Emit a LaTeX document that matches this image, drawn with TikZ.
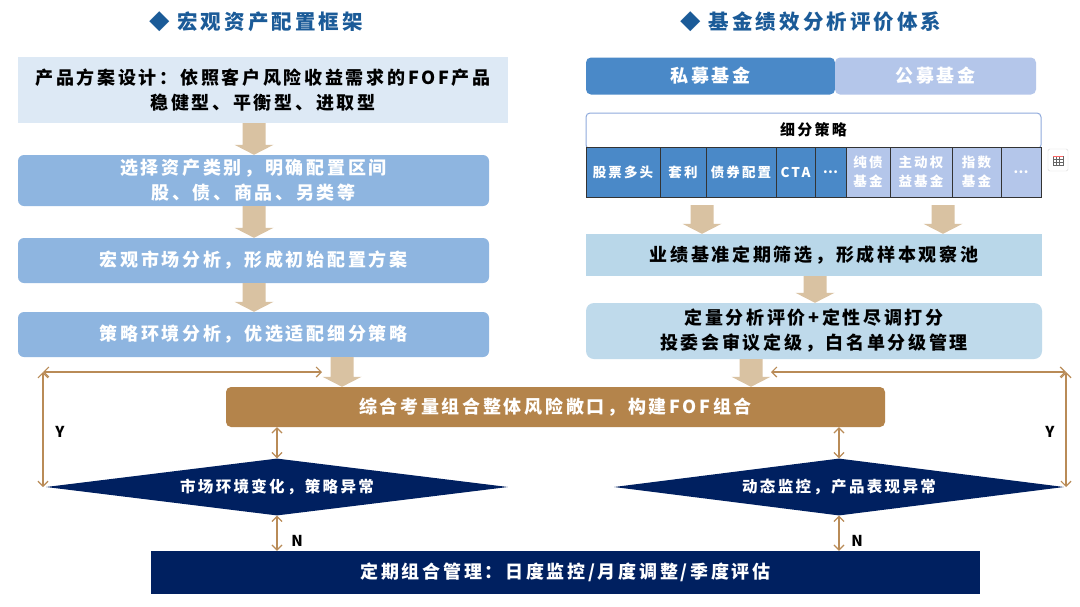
\documentclass[tikz,border=0pt]{standalone}
\usepackage{fontspec}
\usetikzlibrary{shapes.geometric,arrows.meta,calc}
\newfontfamily\cjk[LetterSpace=15]{Noto Sans CJK SC}
\definecolor{ttl}{HTML}{1B5B98}
\definecolor{pale}{HTML}{DDE9F5}
\definecolor{midb}{HTML}{8EB5E0}
\definecolor{tanc}{HTML}{D9C2A2}
\definecolor{brn}{HTML}{B4844B}
\definecolor{lbrn}{HTML}{B98B57}
\definecolor{navy}{HTML}{002060}
\definecolor{prv}{HTML}{4A89C8}
\definecolor{pub}{HTML}{B4C6EA}
\definecolor{cyb}{HTML}{B9D7E9}
\definecolor{frm}{HTML}{8FAADC}
\newcommand\fsz[2]{\fontsize{#1pt}{#2pt}\selectfont}
\newcommand\tanarr[3]{\fill[tanc] let \p1=(#2), \p2=(#3) in
  (#1pt-11.5pt,\y1) -- (#1pt+11.5pt,\y1) -- (#1pt+11.5pt,\y2+10pt) -- (#1pt+19.5pt,\y2+10pt)
  -- (#1pt,\y2) -- (#1pt-19.5pt,\y2+10pt) -- (#1pt-11.5pt,\y2+10pt) -- cycle;}
\begin{document}
\begin{tikzpicture}[x=1pt,y=-1pt,
  every node/.style={inner sep=0pt, align=center},
  ttlstyle/.style={text=ttl, font=\cjk\bfseries\fsz{20.5}{24}},
  bigtxt/.style={font=\cjk\bfseries\fsz{18}{25}},
  lbox/.style={bigtxt, fill=midb, text=white, rounded corners=6pt, minimum width=471pt},
  rbox/.style={bigtxt, fill=cyb, text=black, minimum width=456pt},
  cell/.style={draw=black!80, line width=0.8pt, text=white, minimum height=50pt, font=\cjk\bfseries\fsz{13.5}{19}},
  dia/.style={diamond, aspect=8, fill=navy, text=white, font=\cjk\bfseries\fsz{15.5}{18}},
  dbl/.style={draw=lbrn, line width=1.2pt, {Straight Barb[length=5pt,width=10pt]}-{Straight Barb[length=5pt,width=10pt]}},
  yn/.style={font=\cjk\bfseries\fsz{15}{16}, text=black}]
\useasboundingbox (0,0) rectangle (1080,606);
\fill[white] (0,0) rectangle (1080,606);

% titles
\node[ttlstyle] (tl) at (256,22) {◆ 宏观资产配置框架};
\node[ttlstyle] (tr) at (811,22) {◆ 基金绩效分析评价体系};

% left column
\node[bigtxt, fill=pale, text=black, minimum width=490pt, minimum height=66pt] (b1) at (263,90)
  {产品方案设计：依照客户风险收益需求的FOF产品\\稳健型、平衡型、进取型};
\node[lbox, minimum height=51pt] (b2) at (253.5,180.5) {选择资产类别，明确配置区间\\股、债、商品、另类等};
\node[lbox, minimum height=45pt] (b3) at (253.5,260.5) {宏观市场分析，形成初始配置方案};
\node[lbox, minimum height=45pt] (b4) at (253.5,334.5) {策略环境分析，优选适配细分策略};

% right column
\node[bigtxt, fill=prv, text=white, rounded corners=5pt, minimum width=249pt, minimum height=37pt] (pv) at (710.5,76) {私募基金};
\node[bigtxt, fill=pub, text=white, rounded corners=5pt, minimum width=201pt, minimum height=37pt] (pb) at (935.5,76) {公募基金};
\node[draw=frm, line width=1pt, fill=white, rounded corners=4pt, minimum width=455pt, minimum height=36pt,
  font=\cjk\bfseries\fsz{15}{18}] (xf) at (813.5,131) {\raisebox{3pt}{细分策略}};
\node[cell, fill=prv, minimum width=74pt] (c1) at (623,172) {股票多头};
\node[cell, fill=prv, minimum width=46pt] (c2) at (683,172) {套利};
\node[cell, fill=prv, minimum width=70pt] (c3) at (741,172) {债券配置};
\node[cell, fill=prv, minimum width=39pt] (c4) at (795.5,172) {CTA};
\node[cell, fill=prv, minimum width=31pt] (c5) at (830.5,172) {…};
\node[cell, fill=pub, minimum width=44pt] (c6) at (868,172) {纯债\\基金};
\node[cell, fill=pub, minimum width=62pt] (c7) at (921,172) {主动权\\益基金};
\node[cell, fill=pub, minimum width=49pt] (c8) at (976.5,172) {指数\\基金};
\node[cell, fill=pub, minimum width=40pt] (c9) at (1021,172) {…};

% small icon
\node[draw=black!15, fill=white, rounded corners=1.5pt, minimum width=20pt, minimum height=22pt] (ic) at (1058,160) {};
\draw[black!60, line width=0.6pt] (1053,156) rectangle (1063,165);
\draw[black!60, line width=0.5pt] (1053,159) -- (1063,159) (1053,162) -- (1063,162) (1056.3,156) -- (1056.3,165) (1059.7,156) -- (1059.7,165);
\draw[red!60, line width=1pt] (1053,156) -- (1063,156);

\node[rbox, minimum height=42pt] (rb1) at (814,255) {业绩基准定期筛选，形成样本观察池};
\node[rbox, fill=cyb!92!white, rounded corners=8pt, minimum height=56pt] (rb2) at (814,331)
  {定量分析评价+定性尽调打分\\投委会审议定级，白名单分级管理};

% merge box
\node[bigtxt, fill=brn, text=white, rounded corners=5pt, minimum width=659pt, minimum height=40pt] (fof) at (555.5,407)
  {综合考量组合整体风险敞口，构建FOF组合};

% decisions
\node[dia, minimum width=462pt, minimum height=57pt] (d1) at (277,487) {市场环境变化，策略异常};
\node[dia, minimum width=450pt, minimum height=57pt] (d2) at (839,487) {动态监控，产品表现异常};

% bottom box
\node[bigtxt, fill=navy, text=white, minimum width=829pt, minimum height=43pt] (bot) at (565.5,572.5)
  {定期组合管理：日度监控/月度调整/季度评估};

% tan block arrows
\coordinate (s5) at (702,205);
\coordinate (s6) at (943,205);
\tanarr{254}{b1.south}{b2.north}
\tanarr{254}{b2.south}{b3.north}
\tanarr{254}{b3.south}{b4.north}
\tanarr{342}{b4.south}{fof.north}
\tanarr{702}{s5}{rb1.north}
\tanarr{943}{s6}{rb1.north}
\tanarr{815}{rb1.south}{rb2.north}
\tanarr{751}{rb2.south}{fof.north}

% feedback loops
\coordinate (cl) at (43,372);
\coordinate (clr) at (322,372);
\coordinate (cr) at (1066,372);
\coordinate (crl) at (771,372);
\draw[dbl] (cl) -- (clr);
\draw[dbl] (cl) -- (cl |- d1.west);
\draw[dbl] (crl) -- (cr);
\draw[dbl] (cr) -- (cr |- d2.east);

\draw[dbl] (d1.north |- fof.south) -- (d1.north);
\draw[dbl] (d1.south) -- (d1.south |- bot.north);
\draw[dbl] (d2.north |- fof.south) -- (d2.north);
\draw[dbl] (d2.south) -- (d2.south |- bot.north);

\node[yn] (y1) at (60,432) {Y};
\node[yn] (y2) at (1050,432) {Y};
\node[yn] (n1) at (297,541) {N};
\node[yn] (n2) at (857,541) {N};
\end{tikzpicture}
\end{document}
